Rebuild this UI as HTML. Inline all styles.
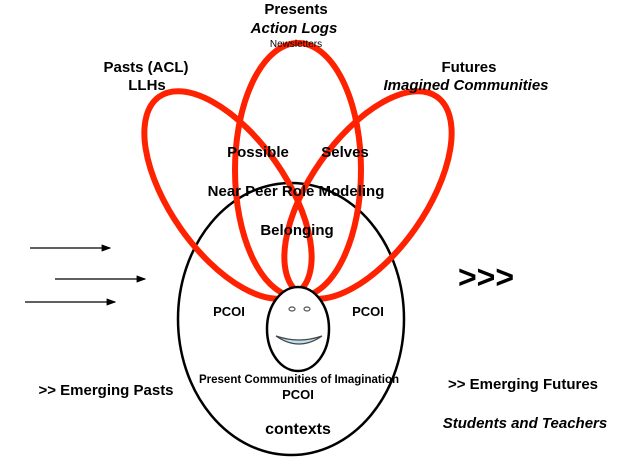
<!DOCTYPE html>
<html><head><style>
body{margin:0;background:#fff;}
svg{display:block;font-family:"Liberation Sans",Arial,sans-serif;font-weight:bold;}
</style></head><body>
<svg width="640" height="465" viewBox="0 0 640 465" xmlns="http://www.w3.org/2000/svg">
<defs><marker id="a" markerWidth="8" markerHeight="6" refX="7" refY="3" orient="auto"><path d="M0,0 L8,3 L0,6 z" fill="#000"/></marker></defs>
<ellipse cx="291" cy="319" rx="113" ry="136" fill="none" stroke="#000" stroke-width="2.5"/>
<g fill="none" stroke="#ff2200" stroke-width="6">
<ellipse cx="298" cy="170" rx="63" ry="127"/>
<ellipse cx="228" cy="195" rx="58" ry="120" transform="rotate(-35 228 195)"/>
<ellipse cx="368" cy="195" rx="58" ry="120" transform="rotate(35 368 195)"/>
</g>
<ellipse cx="298" cy="329" rx="31" ry="42" fill="#fff" stroke="#000" stroke-width="2.5"/>
<ellipse cx="292" cy="309" rx="3" ry="2" fill="none" stroke="#555" stroke-width="1.2"/>
<ellipse cx="307" cy="309" rx="3" ry="2" fill="none" stroke="#555" stroke-width="1.2"/>
<path d="M276,336 Q299,352 322,336 Q299,344 276,336 z" fill="#bfe0f0" stroke="#444" stroke-width="1.2"/>
<g stroke="#000" stroke-width="1.2">
<line x1="30" y1="248" x2="110" y2="248" marker-end="url(#a)"/>
<line x1="55" y1="279" x2="145" y2="279" marker-end="url(#a)"/>
<line x1="25" y1="302" x2="115" y2="302" marker-end="url(#a)"/>
</g>
<g font-size="15" fill="#000" text-anchor="middle">
<text x="296" y="14">Presents</text>
<text x="294" y="33" font-style="italic">Action Logs</text>
<text x="296" y="47" font-size="10" font-weight="normal">Newsletters</text>
<text x="146" y="72">Pasts (ACL)</text>
<text x="147" y="90">LLHs</text>
<text x="469" y="72">Futures</text>
<text x="466" y="90" font-style="italic">Imagined Communities</text>
<text x="258" y="157">Possible</text>
<text x="345" y="157">Selves</text>
<text x="296" y="196">Near Peer Role Modeling</text>
<text x="297" y="235">Belonging</text>
<text x="229" y="316" font-size="13">PCOI</text>
<text x="368" y="316" font-size="13">PCOI</text>
<text x="299" y="383" font-size="11.5">Present Communities of Imagination</text>
<text x="298" y="399" font-size="13">PCOI</text>
<text x="298" y="434" font-size="16">contexts</text>
<text x="106" y="395">&gt;&gt; Emerging Pasts</text>
<text x="523" y="389">&gt;&gt; Emerging Futures</text>
<text x="525" y="428" font-style="italic">Students and Teachers</text>
<text x="486" y="288" font-size="32">&gt;&gt;&gt;</text>
</g>
</svg>
</body></html>
